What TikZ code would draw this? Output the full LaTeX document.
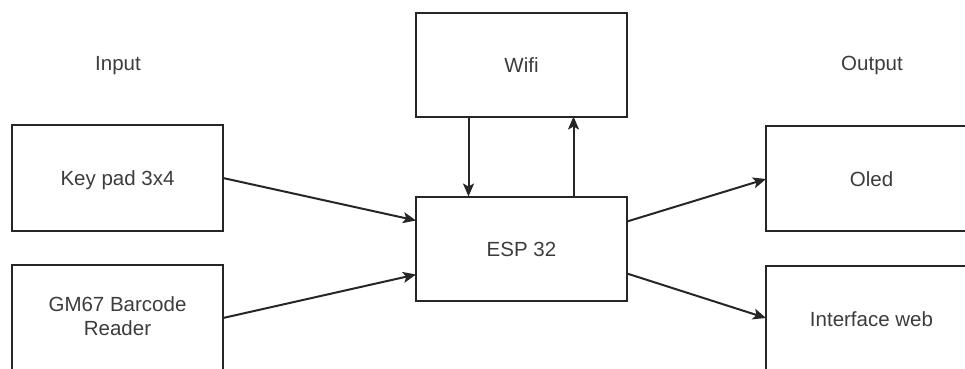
\documentclass[tikz,border=0pt]{standalone}
\usepackage{fontspec}
\setmainfont{Liberation Sans}
\usetikzlibrary{arrows.meta,calc}
\definecolor{linec}{HTML}{262626}
\definecolor{textc}{HTML}{3C3C3C}
\tikzset{
  blk/.style={draw=linec, line width=2pt, minimum width=211pt, minimum height=104pt,
    inner sep=0pt, outer sep=0pt, font=\fontsize{20.5}{25}\selectfont, text=textc,
    text height=15pt, text depth=0pt, align=center},
  lbl/.style={font=\fontsize{20.5}{25}\selectfont, text=textc, anchor=base, inner sep=0pt},
  conn/.style={draw=linec, line width=2pt, -{Stealth[length=13pt,width=11pt,inset=3pt]}}
}
\begin{document}
\begin{tikzpicture}[x=1pt,y=-1pt]
\useasboundingbox (0,0) rectangle (965,368);
\clip (0,0) rectangle (965,368);
\node[lbl] (in) at (118,70) {Input};
\node[lbl] (out) at (872,70) {Output};
\node[blk] (wifi) at (521.5,64.5) {Wifi};
\node[blk] (esp) at (521.5,248.5) {ESP 32};
\node[blk, minimum height=106pt] (key) at (117.5,178) {Key pad 3x4};
\node[blk, minimum height=106pt, text height=35pt] (gm) at (117.5,318) {GM67 Barcode\\[-1pt]Reader};
\node[blk, minimum height=105pt] (oled) at (871.5,178.5) {Oled};
\node[blk, minimum height=105pt] (web) at (871.5,318.5) {Interface web};
\draw[conn] (key.east) -- ($(esp.west)+(0,-28)$);
\draw[conn] (gm.east) -- ($(esp.west)+(0,26)$);
\draw[conn] ($(wifi.south)+(-53,0)$) -- ($(esp.north)+(-53,0)$);
\draw[conn] ($(esp.north)+(52,0)$) -- ($(wifi.south)+(52,0)$);
\draw[conn] ($(esp.east)+(0,-27)$) -- ($(oled.west)+(0,0.5)$);
\draw[conn] ($(esp.east)+(0,25)$) -- ($(web.west)+(0,-0.5)$);
\end{tikzpicture}
\end{document}
